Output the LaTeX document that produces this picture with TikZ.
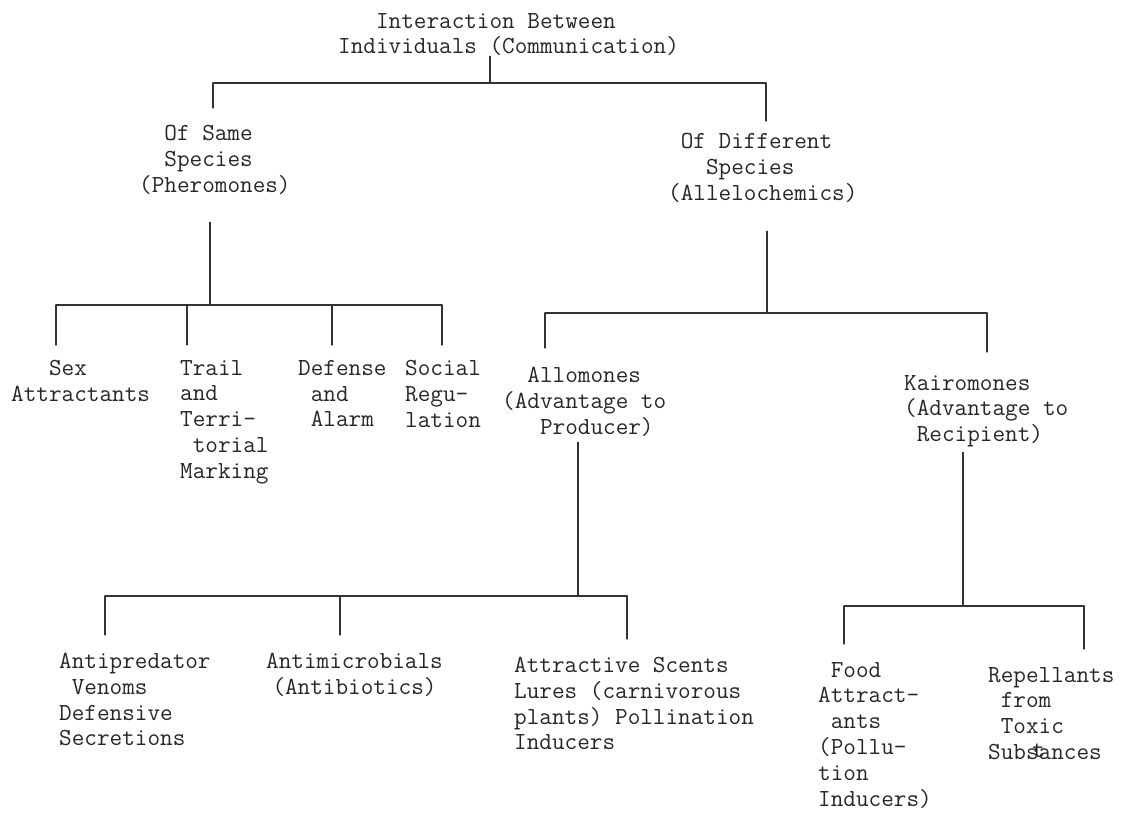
\documentclass[tikz,border=0pt]{standalone}
\usepackage{fontspec}
\usepackage{tikz}
\usetikzlibrary{calc}
\tikzset{
    term/.style={
        inner sep=0pt,
        anchor=north west,
        align=left,
        text=black!85,
        font=\fontsize{24.5}{25.8}\selectfont\ttfamily
    },
    link/.style={
        draw=black!80,
        line width=1.3pt,
        line cap=round
    },
    drop/.style={
        link,
        shorten >=#1
    }
}

\begin{document}
\begin{tikzpicture}[x=1pt, y=-1pt]
  \useasboundingbox (0,0) rectangle (1133,816);

  % Root and first split
  \node[term] (title) at (338,13) {~~~Interaction Between\\Individuals (Communication)};
  \node[term] (same) at (139,125) {~~Of Same\\~~Species\\(Pheromones)};
  \node[term] (diff) at (668,133) {~Of Different\\~~~Species\\(Allelochemics)};

  % Pheromones
  \node[term] (sex) at (11,360) {~~~Sex\\Attractants};
  \node[term] (trail) at (180,360) {Trail\\and\\Terri-\\~torial\\Marking};
  \node[term] (defense) at (298,360) {Defense\\~and\\~Alarm};
  \node[term] (social) at (405,360) {Social\\Regu-\\lation};

  % Allelochemics
  \node[term] (allo) at (502,367) {~~Allomones\\(Advantage to\\~~~Producer)};
  \node[term] (kairo) at (904,375) {Kairomones\\(Advantage to\\~Recipient)};

  % Allomones
  \node[term] (anti) at (59,653) {Antipredator\\~Venoms\\Defensive\\Secretions};
  \node[term, align=center] (micro) at (266,653) {Antimicrobials\\(Antibiotics)};
  \node[term] (scents) at (514,657) {Attractive Scents\\Lures (carnivorous\\plants) Pollination\\Inducers};

  % Kairomones
  \node[term] (food) at (818,662) {~Food\\Attract-\\~ants\\(Pollu-\\tion\\Inducers)};
  \node[term] (repel) at (988,667) {Repellants\\~from\\~Toxic\\Subs\makebox[0pt]{\raisebox{2pt}{t}}ances};

  % Connect root
  \coordinate (j0) at (490,83);
  \coordinate (dsame) at (213,83);
  \coordinate (ddiff) at (766,83);
  \draw[link] (title.south -| j0) -- (j0);
  \draw[link] (dsame) -- (ddiff);
  \draw[drop=17pt] (dsame) -- (dsame |- same.north);
  \draw[drop=12pt] (ddiff) -- (ddiff |- diff.north);

  % Connect pheromones
  \coordinate (j1) at (210,305);
  \draw[link, shorten <=28pt] (same.south -| j1) -- (j1);
  \foreach \x/\n in {56/sex,187/trail,332/defense,442/social} {
    \coordinate (d\n) at (\x,305);
    \draw[drop=15pt] (d\n) -- (d\n |- \n.north);
  }
  \draw[link] (dsex) -- (dsocial);

  % Connect allelochemics
  \coordinate (j2) at (767,313);
  \coordinate (dallo) at (545,313);
  \coordinate (dkairo) at (987,313);
  \draw[link, shorten <=29pt] (diff.south -| j2) -- (j2);
  \draw[link] (dallo) -- (dkairo);
  \draw[drop=19pt] (dallo) -- (dallo |- allo.north);
  \draw[drop=23pt] (dkairo) -- (dkairo |- kairo.north);

  % Connect allomones
  \coordinate (j3) at (578,596);
  \draw[link, shorten <=6pt] (allo.south -| j3) -- (j3);
  \foreach \x/\n in {105/anti,340/micro,627/scents} {
    \coordinate (d\n) at (\x,596);
    \draw[drop=18pt] (d\n) -- (d\n |- \n.north);
  }
  \draw[link] (danti) -- (dscents);

  % Connect kairomones
  \coordinate (j4) at (963,606);
  \draw[link, shorten <=5pt] (kairo.south -| j4) -- (j4);
  \foreach \x/\n in {844/food,1084/repel} {
    \coordinate (d\n) at (\x,606);
    \draw[drop=18pt] (d\n) -- (d\n |- \n.north);
  }
  \draw[link] (dfood) -- (drepel);
\end{tikzpicture}
\end{document}
